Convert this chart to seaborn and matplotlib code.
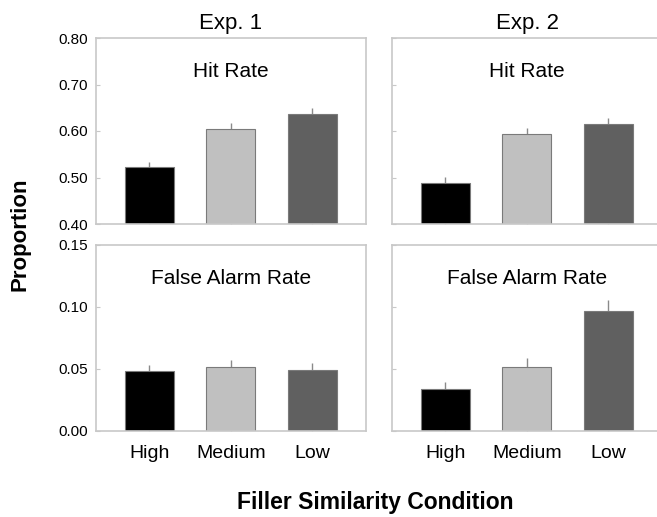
import numpy as np
import pandas as pd
import seaborn as sns
import matplotlib.pyplot as plt

# values
conditions = ['High', 'Medium', 'Low']
exp1_hit = [0.522, 0.605, 0.637]
exp1_hit_err = [0.012, 0.013, 0.012]
exp2_hit = [0.488, 0.593, 0.616]
exp2_hit_err = [0.014, 0.013, 0.012]
exp1_fa = [0.048, 0.052, 0.049]
exp1_fa_err = [0.0055, 0.0055, 0.0055]
exp2_fa = [0.034, 0.052, 0.097]
exp2_fa_err = [0.0055, 0.0065, 0.0085]

bar_colors = ['#000000', '#c0c0c0', '#606060']
spine_gray = '#c8c8c8'

sns.set_style('white')
plt.rcParams['font.family'] = ['Liberation Sans', 'DejaVu Sans']
plt.rcParams['text.color'] = 'black'
plt.rcParams['xtick.labelcolor'] = 'black'
plt.rcParams['ytick.labelcolor'] = 'black'

fig = plt.figure(figsize=(6.57, 5.17), dpi=100)
W, H = 657, 517


def make_ax(x0, y0, w, h):
    return fig.add_axes([x0 / W, 1 - (y0 + h) / H, w / W, h / H])


panels = [
    (96, 38, exp1_hit, exp1_hit_err, 'Hit Rate', (0.40, 0.80), True),
    (392, 38, exp2_hit, exp2_hit_err, 'Hit Rate', (0.40, 0.80), False),
    (96, 245, exp1_fa, exp1_fa_err, 'False Alarm Rate', (0.0, 0.15), True),
    (392, 245, exp2_fa, exp2_fa_err, 'False Alarm Rate', (0.0, 0.15), False),
]

for i, (x0, y0, vals, errs, label, ylim, show_y) in enumerate(panels):
    ax = make_ax(x0, y0, 270, 186)
    df = pd.DataFrame({'Condition': conditions, 'Proportion': vals})
    sns.barplot(data=df, x='Condition', y='Proportion', hue='Condition',
                palette=bar_colors, width=0.6, edgecolor='#7a7a7a',
                linewidth=0.8, legend=False, ax=ax, zorder=2)
    ax.errorbar(np.arange(3), vals, yerr=[np.zeros(3), errs], fmt='none',
                ecolor='#8a8a8a', elinewidth=1, capsize=0, zorder=1)
    ax.set_xlim(-0.656, 2.66)
    ax.set_ylim(*ylim)
    if ylim[1] > 0.5:
        ax.set_yticks([0.40, 0.50, 0.60, 0.70, 0.80])
    else:
        ax.set_yticks([0.0, 0.05, 0.10, 0.15])
    ax.yaxis.set_major_formatter(plt.FormatStrFormatter('%.2f'))
    ax.tick_params(axis='both', direction='in', length=3, color=spine_gray,
                   labelsize=11, left=True, bottom=True)
    ax.tick_params(axis='y', pad=6)
    if not show_y:
        ax.set_yticklabels([])
    if i < 2:
        ax.set_xticklabels([])
    else:
        ax.tick_params(axis='x', labelsize=14, pad=10)
    ax.set_xlabel('')
    ax.set_ylabel('')
    for sp in ax.spines.values():
        sp.set_color(spine_gray)
        sp.set_linewidth(1.2)
    if not show_y:
        # right column runs off the edge of the figure
        ax.spines['right'].set_visible(False)
    ax.text(0.5, 0.82, label, transform=ax.transAxes, ha='center',
            va='center', fontsize=15)

fig.text((96 + 135) / W, 1 - 23 / H, 'Exp. 1', ha='center', va='center', fontsize=16)
fig.text((392 + 135) / W, 1 - 23 / H, 'Exp. 2', ha='center', va='center', fontsize=16)
fig.text(20 / W, 1 - 234 / H, 'Proportion', rotation=90, ha='center',
         va='center', fontsize=16, fontweight='bold')
fig.text(375 / W, 1 - 502 / H, 'Filler Similarity Condition', ha='center',
         va='center', fontsize=16.5, fontweight='bold')

fig.savefig('out.png', dpi=100)
